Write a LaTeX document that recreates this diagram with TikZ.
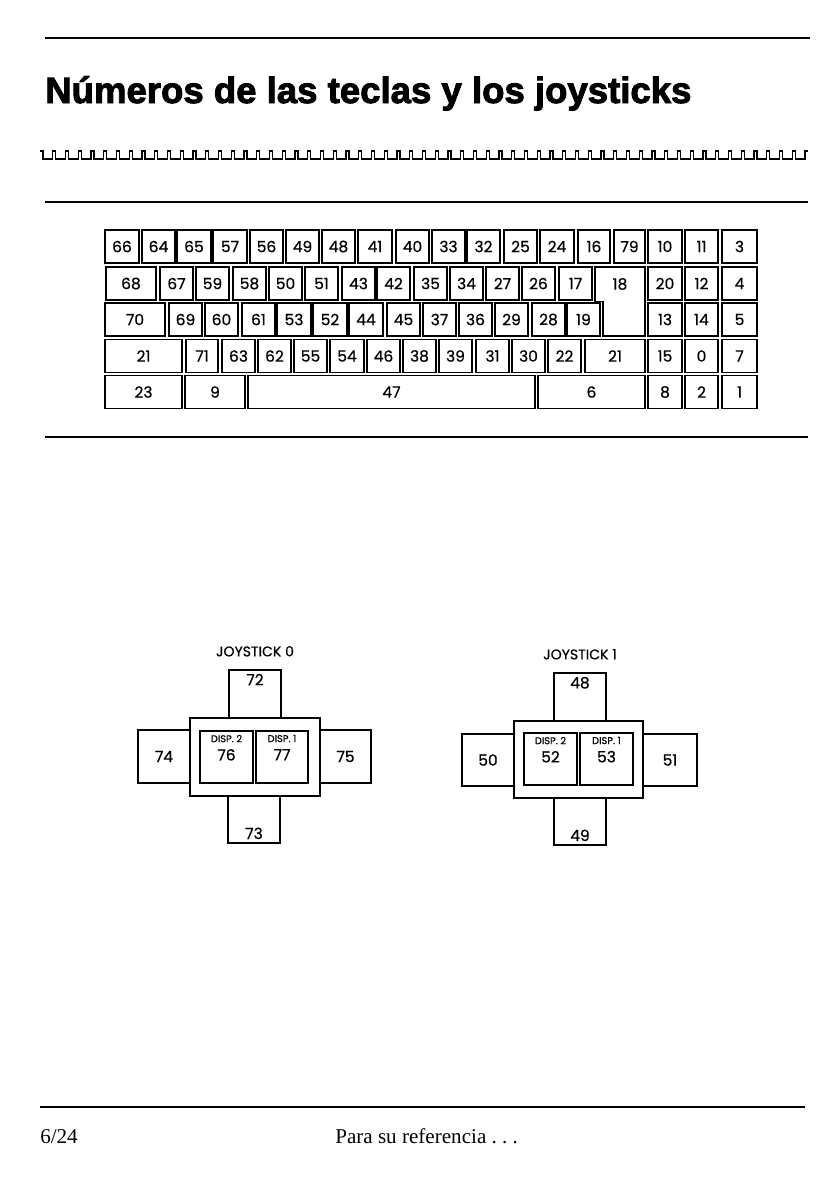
\documentclass[tikz,border=0pt]{standalone}
\usepackage{fontspec}
\setmainfont{Liberation Serif}
\newfontfamily\keyfont{Poppins}[FakeBold=0.6]
\newfontfamily\titlefont{Liberation Sans}[BoldFeatures={FakeBold=2.5}]
\usetikzlibrary{positioning}

\begin{document}
\begin{tikzpicture}[x=0.025cm,y=-0.025cm, every node/.style={font=\keyfont},
    key/.style={draw, line width=1.1pt, inner sep=0pt, minimum height=0.825cm, font=\keyfont\fontsize{11}{12}\selectfont},
    rule/.style={line width=1pt},
    jbox/.style={draw, line width=0.8pt, inner sep=0pt},
    jnum/.style={inner sep=3pt, font=\keyfont\fontsize{11}{12}\selectfont},
    jdisp/.style={anchor=north, align=center, inner sep=3pt, font=\keyfont\fontsize{11}{12}\selectfont},
    jtitle/.style={font=\keyfont\fontsize{10}{11}\selectfont}]
    \useasboundingbox (0,0) rectangle (831,1180);

    % title and rules
    \draw[rule] (45,38) -- (810,38);
    \node[anchor=base west, inner sep=0pt, font=\titlefont\bfseries\fontsize{26}{30}\selectfont] (title) at (45,103) {Números de las teclas y los joysticks};
    \draw[line width=0.9pt] (40,151) \foreach \i in {0,...,59} { -- ++(3,0) -- ++(0,8) -- ++(9.75,0) -- ++(0,-8) } -- ++(3,0);
    \draw[rule] (45,202) -- (808,202);

    % keyboard, row by row
    \foreach \a/\b/\t in {105/139/66, 142/175/64, 177/211/65, 213/247/57, 250/283/56, 286/319/49, 322/355/48, 358/392/41, 396/429/40, 432/465/33, 467/500/32, 504/537/25, 540/574/24, 578/610/16, 614/645/79, 648/682/10, 685/718/11, 722/757/3}
        \node[key, minimum width={(\b-\a)*0.025cm}] (k1-\t) at ({(\a+\b)/2},246.5) {\t};
    \foreach \a/\b/\t in {106/156/68, 160/193/67, 196/229/59, 233/266/58, 269/302/50, 305/338/51, 342/375/43, 377/410/42, 414/447/35, 450/483/34, 486/519/27, 522/555/26, 559/592/17, 648/682/20, 685/718/12, 722/757/4}
        \node[key, minimum width={(\b-\a)*0.025cm}] (k2-\t) at ({(\a+\b)/2},283.5) {\t};
    \foreach \a/\b/\t in {105/165/70, 169/202/69, 205/238/60, 242/275/61, 277/311/53, 313/347/52, 349/383/44, 387/420/45, 423/456/37, 459/492/36, 495/528/29, 532/565/28, 567/600/19, 648/682/13, 685/718/14, 722/757/5}
        \node[key, minimum width={(\b-\a)*0.025cm}] (k3-\t) at ({(\a+\b)/2},319.5) {\t};
    \foreach \a/\b/\t in {105/182/21, 186/218/71, 222/255/63, 258/291/62, 294/327/55, 330/364/54, 367/400/46, 403/436/38, 439/472/39, 476/509/31, 512/545/30, 548/581/22, 585/645/21, 648/682/15, 685/718/0, 722/757/7}
        \node[key, minimum width={(\b-\a)*0.025cm}] (k4-\t) at ({(\a+\b)/2},356) {\t};
    \foreach \a/\b/\t in {105/182/23, 185/245/9, 538/645/6, 648/682/8, 685/718/2, 722/757/1}
        \node[key, minimum width={(\b-\a)*0.025cm}] (k5-\t) at ({(\a+\b)/2},392) {\t};
    \node[key, minimum width=7.175cm] (k5-47) at (391.5,392) {47\hspace{0.8cm}};
    % return key
    \draw[line width=1.1pt] (595,267) -- (645,267) -- (645,336) -- (603,336) -- (603,301.5) -- (595,301.5) -- cycle;
    \node[font=\keyfont\fontsize{11}{12}\selectfont] (k2-18) at (620,284) {18};
    \draw[rule] (45,437) -- (808,437);

    % joystick 0
    \node[jbox, minimum width=1.3cm, minimum height=1.2cm, label={[jnum, anchor=north]north:72}] (j0-up) at (255,694) {};
    \node[jbox, minimum width=3.25cm, minimum height=1.95cm] (j0-frame) at (255,757) {};
    \node[jbox, minimum width=1.3cm, minimum height=1.175cm, label={[jnum, anchor=south]south:73}] (j0-down) at (254,819.5) {};
    \node[jbox, minimum width=1.3cm, minimum height=1.325cm, font=\keyfont\fontsize{11}{12}\selectfont] (j0-left) at (164,756.5) {74};
    \node[jbox, minimum width=1.275cm, minimum height=1.325cm, font=\keyfont\fontsize{11}{12}\selectfont] (j0-right) at (345.5,756.5) {75};
    \node[jbox, minimum width=1.325cm, minimum height=1.3cm, label={[jdisp]north:{\fontsize{7}{8}\selectfont DISP. 2}\\[1pt]76}] (j0-fire2) at (226.5,757) {};
    \node[jbox, minimum width=1.3cm, minimum height=1.3cm, label={[jdisp]north:{\fontsize{7}{8}\selectfont DISP. 1}\\[1pt]77}] (j0-fire1) at (282,757) {};
    \node[jtitle, above=0.2cm of j0-up] (j0-title) {JOYSTICK 0};

    % joystick 1
    \node[jbox, minimum width=1.3cm, minimum height=1.2cm, label={[jnum, anchor=north]north:48}] (j1-up) at (580,697) {};
    \node[jbox, minimum width=3.225cm, minimum height=1.925cm] (j1-frame) at (578.5,759.5) {};
    \node[jbox, minimum width=1.3cm, minimum height=1.175cm, label={[jnum, anchor=south]south:49}] (j1-down) at (580,821.5) {};
    \node[jbox, minimum width=1.3cm, minimum height=1.3cm, font=\keyfont\fontsize{11}{12}\selectfont] (j1-left) at (488,760) {50};
    \node[jbox, minimum width=1.35cm, minimum height=1.3cm, font=\keyfont\fontsize{11}{12}\selectfont] (j1-right) at (670,760) {51};
    \node[jbox, minimum width=1.325cm, minimum height=1.3cm, label={[jdisp]north:{\fontsize{7}{8}\selectfont DISP. 2}\\[1pt]52}] (j1-fire2) at (550.5,759) {};
    \node[jbox, minimum width=1.325cm, minimum height=1.3cm, label={[jdisp]north:{\fontsize{7}{8}\selectfont DISP. 1}\\[1pt]53}] (j1-fire1) at (606.5,759) {};
    \node[jtitle, above=0.2cm of j1-up] (j1-title) {JOYSTICK 1};

    % footer
    \draw[rule] (40,1107) -- (805,1107);
    \node[anchor=base west, inner sep=0pt, font=\rmfamily\fontsize{15}{18}\selectfont] (page) at (40,1143) {6/24};
    \node[anchor=base west, inner sep=0pt, font=\rmfamily\fontsize{15}{18}\selectfont] (ref) at (335,1143) {Para su referencia .\hspace{0.25em}.\hspace{0.25em}.};
\end{tikzpicture}
\end{document}
